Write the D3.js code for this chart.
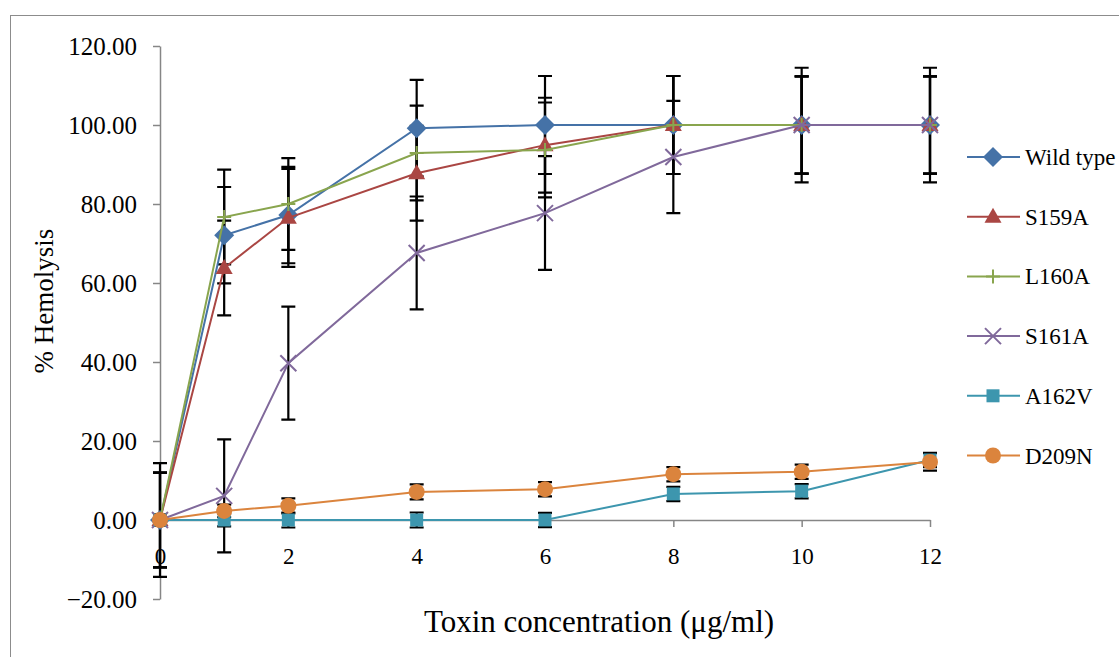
<!DOCTYPE html>
<html>
<head>
<meta charset="utf-8">
<script src="https://cdn.jsdelivr.net/npm/d3@7"></script>
<style>
    body { margin: 0; background: #fff; }
    svg text { font-family: "Liberation Serif", "Times New Roman", serif; }
</style>
</head>
<body>
<div id="chart"></div>
<script>
'use strict';

// ---------- data ----------
let concentrations = [0, 1, 2, 4, 6, 8, 10, 12];
let seriesNames = ['Wild type', 'S159A', 'L160A', 'S161A', 'A162V', 'D209N'];

let wildType = [0, 72.1, 77.2, 99.2, 100, 100, 100, 100];
let s159a    = [0, 63.8, 76.5, 87.8, 94.9, 100, 100, 100];
let l160a    = [0, 76.7, 80.0, 92.9, 93.7, 100, 100, 100];
let s161a    = [0, 6.1, 39.7, 67.6, 77.7, 91.9, 100, 100];
let a162v    = [0, 0, 0, 0, 0, 6.6, 7.3, 15.2];
let d209n    = [0, 2.3, 3.6, 7.1, 7.8, 11.6, 12.2, 14.7];

let wildTypeErr = [12.0, 12.2, 12.2, 12.2, 12.4, 12.4, 12.3, 12.3];
let s159aErr    = [12.0, 12.0, 12.4, 12.0, 12.0, 12.4, 12.3, 12.3];
let l160aErr    = [12.0, 12.0, 11.6, 12.0, 12.0, 12.4, 12.3, 12.3];
let s161aErr    = [14.4, 14.3, 14.3, 14.3, 14.4, 14.2, 14.5, 14.5];
let a162vErr    = [1.5, 1.6, 1.9, 1.9, 1.8, 1.8, 1.8, 1.8];
let d209nErr    = [1.5, 1.6, 1.9, 1.9, 1.8, 1.8, 1.8, 2.2];

let yTicks = [-20, 0, 20, 40, 60, 80, 100, 120];
let xTicks = [0, 2, 4, 6, 8, 10, 12];

let colors = ['#4572A7', '#AA4643', '#89A54E', '#80699B', '#3D96AE', '#DB843D'];
let markers = ['diamond', 'triangle', 'plus', 'cross', 'square', 'circle'];

let allValues = [wildType, s159a, l160a, s161a, a162v, d209n];
let allErrors = [wildTypeErr, s159aErr, l160aErr, s161aErr, a162vErr, d209nErr];

// ---------- layout ----------
let width = 1119;
let height = 657;
let serif = '"Liberation Serif", "Times New Roman", serif';

let x = d3.scaleLinear([0, 12], [160, 930]);
let y = d3.scaleLinear([-20, 120], [599, 46]);

let svg = d3.select('#chart').append('svg')
    .attr('width', width)
    .attr('height', height)
    .attr('font-family', serif);

svg.append('rect')
    .attr('x', 10.5).attr('y', 15.5)
    .attr('width', width).attr('height', height)
    .attr('fill', 'none')
    .attr('stroke', '#8c8c8c');

// ---------- axes ----------
let yAxis = svg.append('g')
    .attr('transform', `translate(${x(0)},0)`)
    .call(d3.axisLeft(y)
        .tickValues(yTicks)
        .tickFormat(d3.format('.2f'))
        .tickSize(7)
        .tickSizeOuter(0)
        .tickPadding(16));

let xAxis = svg.append('g')
    .attr('transform', `translate(0,${y(0)})`)
    .call(d3.axisBottom(x)
        .tickValues(xTicks)
        .tickSize(7)
        .tickSizeOuter(0)
        .tickPadding(21));

for (const axis of [xAxis, yAxis]) {
    axis.attr('font-family', serif);
    axis.selectAll('path, line').attr('stroke', '#868686').attr('stroke-width', 1.5);
    axis.selectAll('text').attr('fill', '#000');
}
xAxis.attr('font-size', 23);
yAxis.attr('font-size', 25);

svg.append('text')
    .attr('transform', 'translate(53,301) rotate(-90)')
    .attr('text-anchor', 'middle')
    .attr('font-size', 27)
    .text('% Hemolysis');

svg.append('text')
    .attr('x', 599).attr('y', 632)
    .attr('text-anchor', 'middle')
    .attr('font-size', 31)
    .text('Toxin concentration (μg/ml)');

// ---------- markers ----------
function drawMarker(g, type, color, cx, cy) {
    if (type === 'diamond') {
        g.append('path')
            .attr('d', `M${cx},${cy - 10}L${cx + 10},${cy}L${cx},${cy + 10}L${cx - 10},${cy}Z`)
            .attr('fill', color);
    } else if (type === 'triangle') {
        g.append('path')
            .attr('d', `M${cx},${cy - 9}L${cx + 8.5},${cy + 6}L${cx - 8.5},${cy + 6}Z`)
            .attr('fill', color);
    } else if (type === 'square') {
        g.append('rect')
            .attr('x', cx - 6.5).attr('y', cy - 6.5)
            .attr('width', 13).attr('height', 13)
            .attr('fill', color);
    } else if (type === 'circle') {
        g.append('circle')
            .attr('cx', cx).attr('cy', cy).attr('r', 8)
            .attr('fill', color);
    } else if (type === 'plus') {
        g.append('path')
            .attr('d', `M${cx - 7},${cy}H${cx + 7}M${cx},${cy - 7}V${cy + 7}`)
            .attr('stroke', color).attr('stroke-width', 2).attr('fill', 'none');
    } else if (type === 'cross') {
        g.append('path')
            .attr('d', `M${cx - 8},${cy - 8}L${cx + 8},${cy + 8}M${cx - 8},${cy + 8}L${cx + 8},${cy - 8}`)
            .attr('stroke', color).attr('stroke-width', 2).attr('fill', 'none');
    }
}

// ---------- error bars ----------
let errGroup = svg.append('g');
allValues.forEach((values, s) => {
    values.forEach((v, i) => {
        let e = allErrors[s][i];
        let cx = x(concentrations[i]);
        errGroup.append('path')
            .attr('d', `M${cx},${y(v + e)}V${y(v - e)}` +
                `M${cx - 7},${y(v + e)}H${cx + 7}` +
                `M${cx - 7},${y(v - e)}H${cx + 7}`)
            .attr('stroke', '#000')
            .attr('stroke-width', 2.2)
            .attr('fill', 'none');
    });
});

// ---------- series ----------
let line = d3.line()
    .x((d, i) => x(concentrations[i]))
    .y(d => y(d));

allValues.forEach((values, s) => {
    let g = svg.append('g');
    g.append('path')
        .datum(values)
        .attr('d', line)
        .attr('fill', 'none')
        .attr('stroke', colors[s])
        .attr('stroke-width', 2);
    values.forEach((v, i) => drawMarker(g, markers[s], colors[s], x(concentrations[i]), y(v)));
});

// ---------- legend ----------
let legend = svg.append('g');
seriesNames.forEach((name, s) => {
    let ly = 157 + s * 59.7;
    legend.append('line')
        .attr('x1', 967).attr('x2', 1020)
        .attr('y1', ly).attr('y2', ly)
        .attr('stroke', colors[s]).attr('stroke-width', 2);
    drawMarker(legend, markers[s], colors[s], 993, ly);
    legend.append('text')
        .attr('x', 1025).attr('y', ly)
        .attr('dy', '0.35em')
        .attr('font-size', 23)
        .text(name);
});
</script>
</body>
</html>
